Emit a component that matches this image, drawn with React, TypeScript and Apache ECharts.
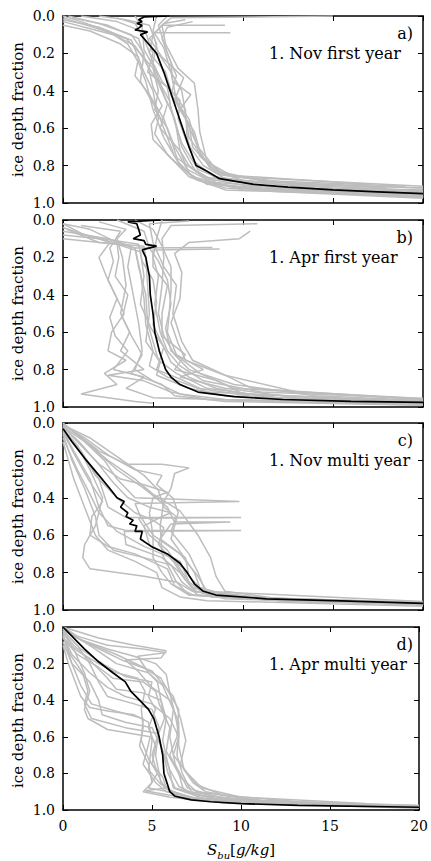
import React, { useEffect, useRef } from "react";
import * as echarts from "echarts";

// x: bulk salinity S_bu [g/kg], y: ice depth fraction (0 = top)
const xTicks = [0, 5, 10, 15, 20];
const yTicks = [0.0, 0.2, 0.4, 0.6, 0.8, 1.0];
const panelTags = ["a)", "b)", "c)", "d)"];
const panelTitles = ["1. Nov first year", "1. Apr first year", "1. Nov multi year", "1. Apr multi year"];

const meanA = [[5.9,0],[4.5,0.005],[4.2,0.02],[4.4,0.03],[4.1,0.04],[4.4,0.05],[4.2,0.065],[4.0,0.075],[4.7,0.085],[4.3,0.1],[4.4,0.11],[5.2,0.2],[5.6,0.3],[5.95,0.4],[6.3,0.5],[6.65,0.6],[7.0,0.7],[7.4,0.8],[8.0,0.83],[8.7,0.87],[10.6,0.9],[12.5,0.915],[15,0.93],[17.5,0.94],[20,0.95]];
const grayA = [
  [[0,0],[1.0,0.03],[2.5,0.08],[3.6,0.15],[4.2,0.25],[4.6,0.35],[5.0,0.5],[5.6,0.65],[6.5,0.8],[7.5,0.88],[10,0.92],[20,0.96]],
  [[0.3,0],[2,0.04],[3.8,0.1],[4.5,0.2],[4.3,0.35],[5.2,0.5],[5.6,0.6],[6.2,0.75],[7.8,0.86],[12,0.92],[20,0.945]],
  [[1,0],[3,0.03],[4.6,0.09],[5.0,0.2],[4.7,0.3],[5.8,0.38],[6.0,0.5],[6.6,0.68],[7.5,0.82],[9,0.88],[15,0.92],[20,0.93]],
  [[15,0.0],[6,0.01],[5.5,0.05],[5.7,0.15],[6.4,0.28],[7.3,0.36],[7.5,0.5],[7.6,0.62],[8.0,0.78],[9.5,0.86],[20,0.91]],
  [[9.3,0.09],[5.0,0.09],[5.3,0.2],[6.0,0.3],[6.3,0.45],[7.0,0.58],[7.2,0.7],[8.5,0.84],[13,0.9],[20,0.92]],
  [[0,0.02],[2,0.06],[3.8,0.13],[4.5,0.3],[5.0,0.4],[5.3,0.55],[5.1,0.63],[5.8,0.74],[7.0,0.86],[9,0.93],[20,0.965]],
  [[9.0,0.05],[5.5,0.05],[4.8,0.12],[5.5,0.22],[6.7,0.33],[6.2,0.45],[6.8,0.55],[7.5,0.7],[8.6,0.83],[11,0.88],[19,0.91]],
  [[4,0],[4.4,0.06],[4.5,0.18],[5.2,0.3],[5.6,0.42],[6.2,0.55],[6.6,0.7],[7.3,0.82],[8.5,0.89],[14,0.935],[20,0.95]],
  [[0,0.05],[1.5,0.08],[3.2,0.15],[4.2,0.22],[4.0,0.32],[4.8,0.42],[5.6,0.55],[6.0,0.66],[6.4,0.78],[7.2,0.86],[10,0.93],[20,0.975]],
  [[5.2,0],[5.0,0.08],[5.6,0.17],[6.0,0.3],[6.6,0.4],[6.8,0.52],[7.0,0.65],[7.8,0.76],[9.0,0.85],[17,0.9]],
  [[0.5,0.01],[2.5,0.05],[4.2,0.12],[4.6,0.25],[5.3,0.36],[5.8,0.47],[5.4,0.6],[6.5,0.72],[7.0,0.8],[8.0,0.87],[11,0.92],[20,0.955]],
  [[6.8,0.02],[5.6,0.04],[5.0,0.1],[4.8,0.2],[5.7,0.3],[6.0,0.4],[6.8,0.5],[6.9,0.65],[7.3,0.78],[8.4,0.86],[12,0.9],[20,0.935]],
  [[2,0],[3.5,0.02],[4.8,0.05],[5.2,0.15],[5.0,0.25],[5.5,0.35],[6.5,0.45],[6.4,0.55],[6.9,0.68],[7.8,0.8],[9,0.87],[14,0.92],[20,0.94]],
  [[0,0.01],[2.0,0.07],[3.5,0.12],[4.3,0.2],[5.0,0.28],[5.3,0.4],[5.1,0.5],[5.8,0.6],[6.2,0.7],[6.9,0.82],[8.5,0.9],[14,0.945],[20,0.96]],
  [[7.2,0.03],[5.8,0.06],[5.5,0.12],[6.0,0.25],[6.1,0.35],[7.1,0.42],[6.5,0.5],[7.3,0.62],[7.6,0.72],[8.2,0.82],[10,0.88],[18,0.92]],
  [[3,0.01],[4.0,0.04],[4.5,0.12],[4.9,0.22],[5.2,0.33],[5.9,0.45],[6.3,0.6],[6.5,0.72],[7.0,0.84],[8,0.9],[13,0.94],[20,0.95]],
  [[0,0.03],[1.2,0.06],[2.8,0.1],[4.0,0.16],[4.7,0.26],[5.0,0.38],[5.5,0.48],[4.9,0.58],[5.0,0.66],[6.0,0.76],[7.3,0.87],[9,0.92],[20,0.97]],
  [[5.8,0],[5.3,0.05],[5.8,0.2],[6.3,0.32],[6.0,0.42],[7.0,0.55],[7.4,0.68],[7.6,0.75],[8.8,0.85],[12,0.89],[20,0.92]],
];

const meanB = [[5.4,0],[3.6,0.01],[4.1,0.02],[4.2,0.05],[4.3,0.08],[3.9,0.1],[4.5,0.11],[4.6,0.13],[5.2,0.14],[4.4,0.16],[4.6,0.2],[4.8,0.3],[4.85,0.4],[5.0,0.5],[5.1,0.6],[5.35,0.7],[5.7,0.8],[6.0,0.84],[6.5,0.88],[7.5,0.92],[9.5,0.945],[12.2,0.96],[16,0.97],[20,0.975]];
const grayB = [
  [[0,0.02],[1.0,0.07],[2.6,0.12],[2.0,0.2],[2.4,0.3],[2.9,0.4],[3.4,0.5],[2.7,0.6],[2.5,0.7],[3.5,0.75],[2.3,0.82],[3.0,0.88],[1.0,0.93],[4.0,0.97],[5.0,0.98]],
  [[0,0.06],[2.5,0.1],[3.8,0.14],[3.6,0.25],[3.9,0.4],[4.2,0.55],[4.4,0.7],[4.0,0.8],[5.0,0.86],[6.5,0.93],[9,0.96],[20,0.985]],
  [[8.3,0.147],[4.0,0.15],[4.2,0.25],[4.6,0.4],[4.7,0.55],[5.0,0.65],[5.3,0.75],[6.3,0.82],[8,0.9],[12,0.95],[20,0.97]],
  [[10.8,0.02],[6,0.03],[5.5,0.1],[5.6,0.2],[5.5,0.35],[5.3,0.5],[5.6,0.62],[6.2,0.72],[7.0,0.8],[9.5,0.88],[14,0.94],[20,0.965]],
  [[10.4,0.06],[9.8,0.1],[7,0.12],[6.2,0.18],[6.6,0.28],[6.5,0.42],[6.0,0.55],[6.4,0.66],[6.8,0.75],[9,0.83],[13,0.92],[20,0.96]],
  [[3,0],[4.5,0.06],[4.8,0.15],[5.3,0.22],[5.8,0.32],[6.0,0.45],[5.7,0.58],[6.0,0.7],[7.6,0.82],[9.5,0.9],[20,0.955]],
  [[0,0.1],[3,0.13],[4.3,0.17],[4.5,0.3],[4.3,0.45],[4.9,0.58],[5.6,0.68],[5.2,0.8],[6.5,0.85],[8,0.92],[20,0.975]],
  [[5.5,0.0],[5.2,0.1],[5.0,0.2],[5.3,0.3],[5.1,0.45],[5.4,0.6],[5.8,0.7],[6.5,0.78],[7.8,0.86],[11,0.92],[20,0.955]],
  [[2,0.01],[3.5,0.05],[3.0,0.1],[3.3,0.2],[3.5,0.35],[3.2,0.5],[3.8,0.62],[4.4,0.72],[3.8,0.82],[5.5,0.88],[6.2,0.94],[9,0.97],[20,0.99]],
  [[8.7,0.155],[5,0.16],[5.0,0.25],[5.8,0.35],[5.5,0.5],[5.5,0.62],[6.8,0.72],[6.2,0.8],[8.6,0.86],[10,0.93],[20,0.97]],
  [[0.2,0.05],[2,0.12],[4.5,0.14],[4.6,0.2],[4.7,0.35],[4.8,0.5],[4.6,0.65],[5.4,0.76],[5.2,0.83],[7,0.9],[9,0.94],[20,0.98]],
  [[0,0.02],[1.5,0.05],[3.0,0.12],[3.1,0.2],[2.9,0.3],[3.6,0.4],[3.3,0.52],[3.7,0.6],[3.2,0.7],[4.5,0.8],[2.5,0.83],[4.5,0.86],[6,0.92],[8,0.96],[20,0.985]],
  [[7,0.005],[4.8,0.02],[5.0,0.12],[5.6,0.25],[6.3,0.35],[6.1,0.5],[6.6,0.65],[7.2,0.75],[8.8,0.82],[10.5,0.9],[20,0.96]],
  [[0,0.08],[2,0.1],[4.0,0.15],[4.3,0.28],[4.5,0.42],[4.6,0.56],[5.0,0.7],[4.8,0.78],[5.8,0.84],[7.5,0.9],[11,0.95],[20,0.98]],
  [[1,0.03],[3.2,0.06],[2.6,0.15],[2.8,0.22],[2.5,0.32],[3.0,0.42],[2.6,0.52],[2.9,0.62],[3.6,0.7],[2.8,0.8],[4.5,0.84],[3.5,0.9],[5,0.95],[20,0.99]],
  [[4,0],[5.0,0.05],[5.5,0.14],[6.0,0.25],[6.0,0.38],[5.9,0.5],[5.8,0.6],[6.3,0.72],[7.8,0.8],[6.5,0.84],[9,0.9],[13,0.95],[20,0.97]],
  [[0,0.04],[1.5,0.09],[4.2,0.13],[4.4,0.22],[5.0,0.32],[5.2,0.44],[5.0,0.56],[5.5,0.66],[6.0,0.76],[7.0,0.84],[8.5,0.9],[12,0.96],[20,0.975]],
];

const meanC = [[0,0.03],[0.5,0.1],[1.3,0.2],[2.0,0.28],[2.6,0.35],[3.0,0.4],[3.4,0.42],[3.2,0.45],[3.6,0.48],[3.5,0.5],[3.9,0.52],[3.7,0.54],[4.1,0.55],[4.0,0.58],[4.4,0.58],[4.3,0.62],[4.9,0.66],[5.8,0.7],[6.5,0.75],[6.9,0.8],[7.3,0.86],[7.8,0.9],[8.5,0.92],[11.3,0.94],[15,0.95],[20,0.965]];
const grayC = [
  [[0,0],[1,0.08],[2.5,0.2],[4,0.3],[5,0.38],[6.5,0.47],[7.5,0.6],[8.2,0.72],[8.5,0.82],[9,0.9],[12,0.94],[20,0.965]],
  [[0,0.01],[0.8,0.06],[2,0.15],[3.5,0.22],[5.5,0.22],[7.0,0.24],[6.2,0.27],[6.0,0.35],[5.6,0.42],[5.4,0.55],[5.5,0.7],[6.3,0.85],[7.2,0.9],[10,0.94],[20,0.965]],
  [[0,0.03],[0.8,0.12],[1.5,0.25],[2.2,0.4],[1.8,0.55],[1.2,0.65],[1.1,0.72],[1.5,0.78],[4.5,0.82],[6.3,0.85],[7,0.92],[12,0.95],[20,0.97]],
  [[0,0.02],[1.2,0.1],[2.3,0.2],[3.0,0.3],[4.0,0.4],[9.8,0.42],[4.0,0.43],[4.3,0.5],[5.0,0.6],[6.5,0.7],[7.5,0.82],[8,0.9],[12,0.945],[20,0.97]],
  [[0,0.05],[1,0.15],[2,0.3],[2.5,0.45],[3.5,0.505],[9.9,0.505],[4.2,0.51],[4.8,0.6],[5.8,0.68],[6.5,0.78],[7.2,0.88],[9,0.93],[20,0.96]],
  [[0,0.0],[1.5,0.12],[3.0,0.25],[4.5,0.35],[5.8,0.45],[6.2,0.53],[9.3,0.53],[6.0,0.54],[5.4,0.62],[6.8,0.72],[7.0,0.82],[7.8,0.9],[11,0.94],[20,0.965]],
  [[0,0.04],[0.6,0.15],[1.5,0.3],[2.0,0.45],[2.5,0.55],[3.5,0.575],[9.9,0.575],[3.4,0.58],[3.5,0.65],[5.5,0.72],[6.5,0.8],[7.3,0.9],[10,0.94],[20,0.975]],
  [[0,0.06],[0.5,0.2],[1.2,0.35],[1.8,0.5],[2.0,0.6],[2.8,0.68],[4.5,0.72],[6.0,0.76],[6.6,0.85],[7.5,0.92],[20,0.97]],
  [[0,0.02],[1.0,0.12],[2.0,0.22],[3.2,0.3],[4.5,0.33],[5.8,0.37],[5.0,0.4],[4.8,0.48],[5.0,0.6],[5.0,0.72],[5.5,0.8],[6.0,0.86],[7.0,0.92],[15,0.96]],
  [[0,0.08],[0.8,0.25],[1.5,0.38],[2.0,0.48],[3.0,0.58],[4.5,0.66],[6.0,0.72],[6.7,0.78],[7.5,0.88],[8.2,0.93],[20,0.96]],
  [[0,0.01],[1.5,0.08],[3,0.18],[4.5,0.28],[5.3,0.36],[5.6,0.45],[6.3,0.5],[6.0,0.58],[7.0,0.7],[7.5,0.8],[7.9,0.9],[20,0.955]],
  [[0,0.1],[0.6,0.3],[1.2,0.45],[1.8,0.6],[2.5,0.68],[4.0,0.74],[5.2,0.8],[5.5,0.88],[6.5,0.93],[8,0.95],[20,0.98]],
  [[0,0.02],[0.9,0.1],[1.8,0.2],[2.8,0.32],[3.6,0.4],[4.8,0.45],[6.0,0.48],[5.5,0.5],[4.5,0.55],[4.8,0.65],[6.5,0.74],[7.0,0.85],[7.8,0.91],[12,0.95],[20,0.97]],
  [[0,0.01],[1.2,0.08],[2.5,0.17],[4.0,0.25],[5.5,0.28],[5.2,0.33],[6.1,0.4],[6.4,0.48],[6.0,0.62],[6.6,0.7],[7.3,0.8],[7.6,0.88],[9.5,0.93],[20,0.96]],
  [[0,0.05],[0.7,0.18],[1.4,0.3],[2.2,0.42],[1.6,0.5],[1.5,0.6],[2.5,0.66],[4.0,0.7],[5.8,0.78],[6.2,0.87],[7.2,0.92],[14,0.96]],
  [[0,0.03],[1.0,0.15],[1.8,0.28],[3.0,0.4],[4.0,0.48],[5.0,0.52],[5.6,0.56],[5.3,0.65],[6.2,0.75],[6.8,0.84],[7.4,0.9],[9,0.94],[20,0.97]],
];

const meanD = [[0,0],[0.5,0.05],[1.2,0.12],[2.0,0.19],[2.8,0.25],[3.5,0.3],[3.8,0.35],[4.3,0.4],[4.8,0.45],[5.1,0.5],[5.4,0.6],[5.6,0.7],[5.67,0.8],[6.0,0.9],[6.3,0.925],[7.2,0.945],[8.3,0.955],[10,0.965],[13.2,0.975],[20,0.985]];
const grayD = [
  [[0,0],[0.8,0.05],[2.5,0.1],[4.5,0.12],[5.8,0.14],[4.2,0.16],[4.8,0.25],[5.6,0.32],[6.2,0.45],[6.0,0.6],[6.3,0.75],[7.0,0.88],[9,0.94],[17,0.97]],
  [[0,0.01],[1.2,0.08],[3,0.15],[4.5,0.22],[5.5,0.28],[5.9,0.35],[6.5,0.45],[6.4,0.6],[6.0,0.7],[6.6,0.82],[7.5,0.9],[12,0.96],[20,0.98]],
  [[0,0.02],[0.8,0.1],[1.5,0.2],[2.0,0.3],[2.5,0.38],[4.0,0.42],[5.0,0.45],[5.4,0.55],[5.2,0.7],[5.5,0.85],[6.5,0.93],[10,0.965],[20,0.985]],
  [[0,0.03],[0.6,0.12],[1.2,0.25],[1.5,0.35],[1.2,0.45],[1.4,0.5],[2.5,0.56],[4.9,0.6],[4.7,0.68],[4.5,0.75],[5.2,0.85],[5.8,0.9],[8,0.95],[15,0.975]],
  [[0,0.01],[1.5,0.1],[3.0,0.2],[4.8,0.25],[5.3,0.3],[5.5,0.4],[5.8,0.5],[5.6,0.62],[5.9,0.75],[6.2,0.88],[8,0.94],[13,0.97]],
  [[0,0.05],[0.5,0.15],[1.5,0.25],[2.5,0.33],[3.5,0.38],[5.0,0.42],[6.0,0.5],[6.5,0.6],[6.2,0.7],[7.0,0.8],[7.8,0.88],[10,0.93],[17,0.965]],
  [[0,0.02],[1.0,0.12],[2.2,0.2],[3.5,0.27],[5.0,0.3],[4.8,0.38],[5.2,0.45],[4.8,0.55],[5.2,0.65],[5.0,0.75],[5.6,0.82],[5.8,0.88],[4.6,0.895],[6.0,0.92],[9,0.96],[20,0.985]],
  [[0,0.04],[0.5,0.2],[1.5,0.3],[2.0,0.4],[2.2,0.48],[3.5,0.52],[5.0,0.55],[5.5,0.65],[6.0,0.78],[6.5,0.87],[7.5,0.92],[12,0.955],[20,0.975]],
  [[0,0],[2,0.06],[4,0.1],[5.8,0.13],[5.5,0.17],[3.5,0.18],[4.2,0.24],[5.0,0.33],[6.0,0.4],[6.5,0.52],[6.5,0.65],[6.8,0.78],[7.5,0.86],[9,0.92],[14,0.96]],
  [[0,0.08],[0.5,0.2],[1.0,0.32],[1.6,0.42],[3,0.46],[4.5,0.5],[4.4,0.62],[4.8,0.72],[5.3,0.8],[4.8,0.88],[6.5,0.91],[8,0.95],[20,0.98]],
  [[0,0.06],[0.8,0.15],[2.0,0.22],[2.8,0.28],[4.5,0.3],[5.2,0.35],[5.4,0.42],[6.0,0.55],[5.8,0.68],[6.5,0.8],[6.8,0.9],[9,0.945],[16,0.97]],
  [[0,0.1],[0.3,0.2],[1.0,0.38],[1.5,0.44],[2.6,0.46],[4.0,0.48],[4.8,0.52],[5.0,0.62],[4.8,0.78],[5.5,0.86],[6.2,0.9],[7.5,0.94],[11,0.965],[20,0.99]],
  [[0,0.01],[1.0,0.07],[2.5,0.12],[4.0,0.16],[5.2,0.2],[5.8,0.26],[6.0,0.36],[6.3,0.48],[6.5,0.58],[6.4,0.7],[6.7,0.8],[7.2,0.9],[10,0.95],[18,0.975]],
  [[0,0.03],[0.6,0.1],[1.5,0.18],[2.5,0.28],[3.0,0.34],[4.5,0.36],[5.5,0.4],[5.7,0.5],[5.3,0.6],[5.0,0.7],[5.3,0.8],[5.7,0.88],[7,0.93],[14,0.965]],
  [[0,0.05],[0.4,0.15],[1.1,0.25],[1.4,0.35],[1.2,0.42],[1.6,0.5],[3.5,0.55],[5.3,0.58],[5.6,0.68],[5.9,0.8],[6.3,0.88],[8.5,0.94],[20,0.98]],
  [[0,0.02],[1.6,0.1],[3.3,0.18],[5.0,0.24],[5.5,0.3],[6.2,0.38],[6.6,0.5],[6.9,0.62],[6.6,0.75],[7.3,0.85],[8,0.9],[11,0.95],[20,0.975]],
  [[0,0.06],[0.8,0.13],[2.0,0.2],[3.0,0.25],[4.2,0.28],[4.6,0.35],[4.4,0.45],[4.5,0.55],[4.3,0.65],[4.8,0.75],[5.0,0.85],[4.5,0.9],[6,0.93],[9,0.96],[20,0.985]],
];

const grayProfiles = [grayA, grayB, grayC, grayD];
const meanProfiles = [meanA, meanB, meanC, meanD];

const FONT = "DejaVu Serif";
const PANEL_TOPS = [16, 220, 423, 627];
const PANEL_H = 187;
const LEFT = 63;
const RIGHT = 8;

export default function App() {
  const ref = useRef<HTMLDivElement>(null);
  useEffect(() => {
    if (!ref.current) return;
    const chart = echarts.init(ref.current, null, { renderer: "svg" });
    const grids: any[] = [];
    const xAxes: any[] = [];
    const yAxes: any[] = [];
    const series: any[] = [];
    const graphics: any[] = [];
    const axisLine = { show: true, onZero: false, lineStyle: { color: "#000", width: 1.5 } };
    const axisTick = { show: true, inside: true, length: 5, lineStyle: { color: "#000", width: 1 } };

    PANEL_TOPS.forEach((top, i) => {
      grids.push({ left: LEFT, right: RIGHT, top, height: PANEL_H, containLabel: false });
      const xBase = {
        gridIndex: i, type: "value", min: xTicks[0], max: xTicks[xTicks.length - 1], interval: 5,
        axisLine, axisTick, splitLine: { show: false },
      };
      xAxes.push({
        ...xBase, position: "bottom",
        axisLabel: { show: i === 3, fontFamily: FONT, fontSize: 14, color: "#000", margin: 9 },
        ...(i === 3
          ? {
              name: "{s|S}{sub|bu}{n|[}{s|g/kg}{n|]}",
              nameLocation: "middle",
              nameGap: 30,
              nameTextStyle: {
                rich: {
                  s: { fontFamily: FONT, fontStyle: "italic", fontSize: 15, color: "#000", lineHeight: 20 },
                  n: { fontFamily: FONT, fontSize: 15, color: "#000", lineHeight: 20 },
                  sub: { fontFamily: FONT, fontStyle: "italic", fontSize: 10, color: "#000", lineHeight: 12, verticalAlign: "bottom" },
                },
              },
            }
          : {}),
      });
      xAxes.push({ ...xBase, position: "top", axisLabel: { show: false } });
      const yBase = {
        gridIndex: i, type: "value", min: yTicks[0], max: yTicks[yTicks.length - 1], interval: 0.2, inverse: true,
        axisLine, axisTick, splitLine: { show: false },
      };
      yAxes.push({
        ...yBase, position: "left",
        axisLabel: { show: true, fontFamily: FONT, fontSize: 14, color: "#000", margin: 8, formatter: (v: number) => v.toFixed(1) },
      });
      yAxes.push({ ...yBase, position: "right", axisLabel: { show: false } });

      grayProfiles[i].forEach((p) => {
        series.push({
          type: "line", xAxisIndex: i * 2, yAxisIndex: i * 2, data: p, showSymbol: false, symbol: "none",
          lineStyle: { color: "#bdbdbd", width: 1.5 }, z: 2, silent: true, clip: true,
        });
      });
      series.push({
        type: "line", xAxisIndex: i * 2, yAxisIndex: i * 2, data: meanProfiles[i], showSymbol: false, symbol: "none",
        lineStyle: { color: "#000", width: 1.7 }, z: 3, silent: true, clip: true,
      });

      graphics.push({
        type: "text", x: 413, y: top + 17, z: 10,
        style: { text: panelTags[i], font: `16px '${FONT}'`, fill: "#000", textAlign: "right", textVerticalAlign: "middle" },
      });
      graphics.push({
        type: "text", x: 269, y: top + 37, z: 10,
        style: { text: panelTitles[i], font: `16px '${FONT}'`, fill: "#000", textAlign: "left", textVerticalAlign: "middle" },
      });
      graphics.push({
        type: "text", x: 18, y: top + PANEL_H / 2, rotation: Math.PI / 2, z: 10,
        style: { text: "ice depth fraction", font: `15px '${FONT}'`, fill: "#000", textAlign: "center", textVerticalAlign: "middle" },
      });
    });

    chart.setOption({
      animation: false,
      backgroundColor: "#fff",
      grid: grids,
      xAxis: xAxes,
      yAxis: yAxes,
      series,
      graphic: graphics,
    });
    return () => chart.dispose();
  }, []);
  return <div ref={ref} style={{ position: "fixed", left: 0, top: 0, width: 431, height: 861 }} />;
}
